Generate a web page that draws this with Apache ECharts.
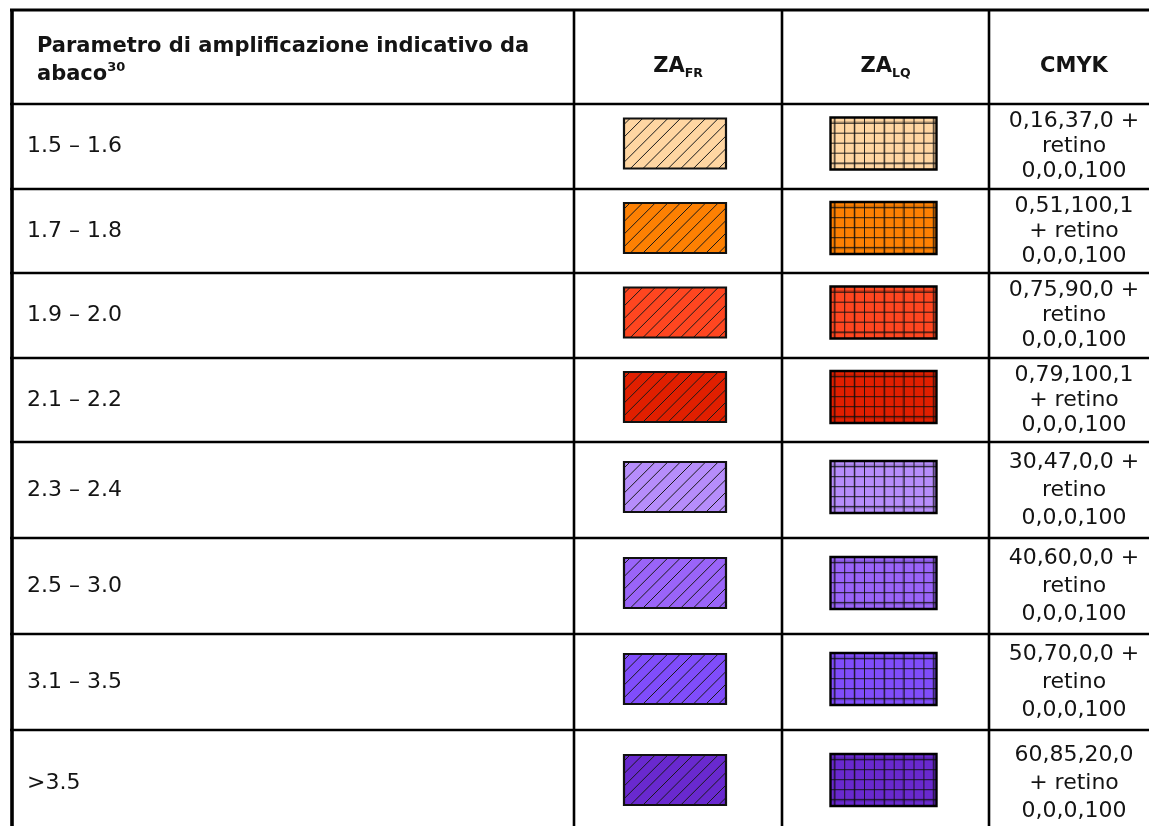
<!DOCTYPE html>
<html><head><meta charset="utf-8">
<script src="https://cdn.jsdelivr.net/npm/echarts@6/dist/echarts.min.js"></script>
<style>html,body{margin:0;padding:0;background:#fff}#c{width:1149px;height:826px}</style>
</head><body><div id="c"></div>
<script>
// ---- text / data ----
const headerTitle = 'Parametro di amplificazione indicativo da';
const headerTitle2 = 'abaco';
const headerFootnote = '30';
const headerCols = [['ZA', 'FR'], ['ZA', 'LQ'], ['CMYK', '']];
const ranges = ['1.5 – 1.6', '1.7 – 1.8', '1.9 – 2.0', '2.1 – 2.2', '2.3 – 2.4', '2.5 – 3.0', '3.1 – 3.5', '>3.5'];
const cmykLines = [
  ['0,16,37,0 +', 'retino', '0,0,0,100'],
  ['0,51,100,1', '+ retino', '0,0,0,100'],
  ['0,75,90,0 +', 'retino', '0,0,0,100'],
  ['0,79,100,1', '+ retino', '0,0,0,100'],
  ['30,47,0,0 +', 'retino', '0,0,0,100'],
  ['40,60,0,0 +', 'retino', '0,0,0,100'],
  ['50,70,0,0 +', 'retino', '0,0,0,100'],
  ['60,85,20,0', '+ retino', '0,0,0,100']
];

// ---- styles ----
const swatchColors = ['#FFD6A2', '#FD8002', '#FF4620', '#E11F00', '#B68DFB', '#9A64F9', '#804DFB', '#6929CF'];
const FONT = '"DejaVu Sans", Verdana, sans-serif';
const TEXT_COLOR = '#141414';
const BODY_SIZE = 22;

// ---- layout (table coordinate system, px units) ----
const colEdges = [12, 574, 782, 989, 1159];
const rowEdges = [10, 104, 189, 273, 358, 442, 538, 634, 730, 836];
const cmykLineHeight = [25, 25, 25, 25, 28, 28, 28, 28];

function renderItem(params, api) {
  const r = api.value(0);
  const X = v => api.coord([v, 0])[0];
  const Y = v => api.coord([0, v])[1];
  const top = Y(rowEdges[r]), bot = Y(rowEdges[r + 1]);
  const ch = [];
  const rightEnd = X(1170);
  ch.push({ type: 'line', shape: { x1: X(colEdges[0]) - 2, y1: top, x2: rightEnd, y2: top },
    style: { stroke: '#000', lineWidth: r === 0 ? 3 : 2.6 } });
  for (let c = 0; c < colEdges.length - 1; c++) {
    ch.push({ type: 'line', shape: { x1: X(colEdges[c]), y1: top, x2: X(colEdges[c]), y2: bot },
      style: { stroke: '#000', lineWidth: c === 0 ? 3.6 : 2.6 } });
  }
  if (r === 0) {
    const cy = (top + bot) / 2 + 4;
    ch.push({ type: 'text', x: X(colEdges[0]) + 25, y: cy,
      style: { text: '{b|' + headerTitle + '}\n{b|' + headerTitle2 + '}{sup|' + headerFootnote + '}',
        align: 'left', verticalAlign: 'middle',
        rich: {
          b: { fontFamily: FONT, fontSize: 21, fontWeight: 'bold', fill: TEXT_COLOR, lineHeight: 28 },
          sup: { fontFamily: FONT, fontSize: 13, fontWeight: 'bold', fill: TEXT_COLOR, verticalAlign: 'top', lineHeight: 20 }
        } } });
    for (let k = 0; k < headerCols.length; k++) {
      const cx = (X(colEdges[k + 1]) + X(colEdges[k + 2])) / 2;
      const txt = '{m|' + headerCols[k][0] + '}' + (headerCols[k][1] ? '{s|' + headerCols[k][1] + '}' : '');
      ch.push({ type: 'text', x: cx, y: cy + 6,
        style: { text: txt, align: 'center', verticalAlign: 'middle',
          rich: {
            m: { fontFamily: FONT, fontSize: 21, fontWeight: 'bold', fill: TEXT_COLOR, lineHeight: 26 },
            s: { fontFamily: FONT, fontSize: 12.5, fontWeight: 'bold', fill: TEXT_COLOR, verticalAlign: 'bottom', lineHeight: 14 }
          } } });
    }
    return { type: 'group', children: ch };
  }
  const i = r - 1;
  const cy = (top + bot) / 2;
  ch.push({ type: 'text', x: X(colEdges[0]) + 15, y: cy,
    style: { text: ranges[i], align: 'left', verticalAlign: 'middle',
      fontFamily: FONT, fontSize: BODY_SIZE, fill: TEXT_COLOR } });
  const color = swatchColors[i];
  const sy = cy - 3;
  // ZA_FR swatch: diagonal hatch
  {
    const cx = (X(colEdges[1]) + X(colEdges[2])) / 2 - 3;
    const w = 102, h = 50, x0 = cx - w / 2, y0 = sy - h / 2;
    ch.push({ type: 'rect', shape: { x: x0, y: y0, width: w, height: h }, style: { fill: color } });
    const s = 12.6;
    for (let c = x0 + y0 + 6; c < x0 + w + y0 + h; c += s) {
      const xa = Math.max(x0, c - y0 - h), xb = Math.min(x0 + w, c - y0);
      if (xa < xb) ch.push({ type: 'line', shape: { x1: xa, y1: c - xa, x2: xb, y2: c - xb },
        style: { stroke: '#1a1a1a', lineWidth: 1 } });
    }
    ch.push({ type: 'rect', shape: { x: x0, y: y0, width: w, height: h },
      style: { fill: null, stroke: '#111', lineWidth: 2.2 } });
  }
  // ZA_LQ swatch: square grid
  {
    const cx = (X(colEdges[2]) + X(colEdges[3])) / 2 - 2;
    const w = 106, h = 52, x0 = cx - w / 2, y0 = sy - h / 2;
    ch.push({ type: 'rect', shape: { x: x0, y: y0, width: w, height: h }, style: { fill: color } });
    [4, 24, 54, 73, 103].forEach(o => ch.push({ type: 'line',
      shape: { x1: x0 + o, y1: y0, x2: x0 + o, y2: y0 + h }, style: { stroke: 'rgba(0,0,0,0.16)', lineWidth: 3 } }));
    [5, 46].forEach(o => ch.push({ type: 'line',
      shape: { x1: x0, y1: y0 + o, x2: x0 + w, y2: y0 + o }, style: { stroke: 'rgba(0,0,0,0.16)', lineWidth: 3 } }));
    for (let xx = x0 + 4.3; xx < x0 + w - 1; xx += 9.9)
      ch.push({ type: 'line', shape: { x1: xx, y1: y0, x2: xx, y2: y0 + h }, style: { stroke: '#111', lineWidth: 0.9 } });
    for (let yy = y0 + 5.7; yy < y0 + h - 1; yy += 10)
      ch.push({ type: 'line', shape: { x1: x0, y1: yy, x2: x0 + w, y2: yy }, style: { stroke: '#111', lineWidth: 0.9 } });
    ch.push({ type: 'rect', shape: { x: x0, y: y0, width: w, height: h },
      style: { fill: null, stroke: '#000', lineWidth: 2.4 } });
  }
  // CMYK text
  {
    const cx = (X(colEdges[3]) + X(colEdges[4])) / 2;
    ch.push({ type: 'text', x: cx, y: cy,
      style: { text: cmykLines[i].join('\n'), align: 'center', verticalAlign: 'middle',
        fontFamily: FONT, fontSize: BODY_SIZE, fill: TEXT_COLOR, lineHeight: cmykLineHeight[i] } });
  }
  return { type: 'group', children: ch };
}

const chart = echarts.init(document.getElementById('c'), null, { renderer: 'canvas' });
chart.setOption({
  backgroundColor: '#fff',
  animation: false,
  grid: { left: 0, right: 0, top: 0, bottom: 0 },
  xAxis: { type: 'value', min: 0, max: 1149, show: false },
  yAxis: { type: 'value', min: 0, max: 826, inverse: true, show: false },
  series: [{
    type: 'custom',
    clip: false,
    renderItem: renderItem,
    data: [0].concat(ranges.map((_, i) => i + 1)).map(v => [v])
  }]
});
</script></body></html>
